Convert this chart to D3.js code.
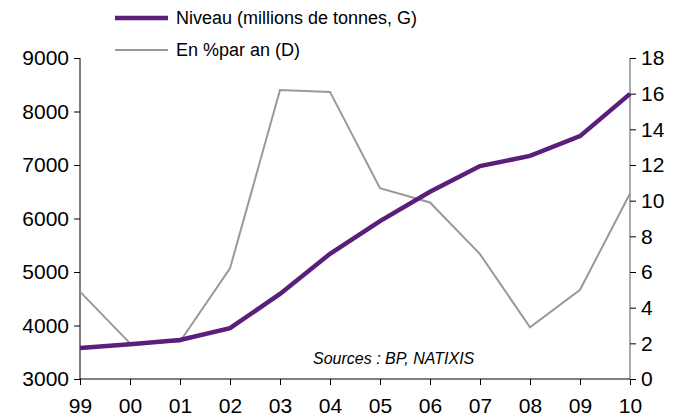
<!DOCTYPE html>
<html>
<head>
<meta charset="utf-8">
<script src="https://cdn.jsdelivr.net/npm/d3@7"></script>
<style>
body { margin: 0; background: #fff; }
text { font-family: "Liberation Sans", Arial, sans-serif; }
</style>
</head>
<body>
<script>
var w = 684, h = 418;

var years = ["99","00","01","02","03","04","05","06","07","08","09","10"];
var niveau = [3580, 3650, 3730, 3950, 4590, 5340, 5950, 6500, 6980, 7170, 7540, 8330];
var pctAn = [4.9, 2.0, 2.1, 6.2, 16.2, 16.1, 10.7, 9.9, 7.0, 2.9, 5.0, 10.4];
var leftTicks = [3000, 4000, 5000, 6000, 7000, 8000, 9000];
var rightTicks = [0, 2, 4, 6, 8, 10, 12, 14, 16, 18];
var legendLabels = ["Niveau (millions de tonnes, G)", "En %par an (D)"];

var purple = "#5b1f7b", grey = "#999999";

var padL = 80, padR = 630, padT = 58, padB = 379;

var svg = d3.select("body").append("svg")
    .attr("width", w).attr("height", h);

var x = d3.scalePoint().domain(years).range([padL, padR]);
var yL = d3.scaleLinear().domain([3000, 9000]).range([padB, padT]);
var yR = d3.scaleLinear().domain([0, 18]).range([padB, padT]);

// axes
var axL = svg.append("g").attr("transform", "translate(" + padL + ",0)")
    .call(d3.axisLeft(yL).tickValues(leftTicks).tickSize(6).tickPadding(5).tickFormat(d3.format("d")));
var axR = svg.append("g").attr("transform", "translate(" + padR + ",0)")
    .call(d3.axisRight(yR).tickValues(rightTicks).tickSize(6).tickPadding(5));
var axB = svg.append("g").attr("transform", "translate(0," + padB + ")")
    .call(d3.axisBottom(x).tickSize(6).tickPadding(8));

[axL, axR, axB].forEach(function(a){
    a.select(".domain").attr("stroke", "#000").attr("stroke-width", 1);
    a.selectAll(".tick line").attr("stroke", "#000");
    a.selectAll(".tick text").attr("font-size", "21px").attr("fill", "#000")
        .style("font-family", "'Liberation Sans', Arial, sans-serif");
});
axB.select(".domain").attr("d", "M" + padL + ",0H" + padR);
axL.select(".domain").attr("d", "M0," + padB + "V" + padT);
axR.select(".domain").attr("d", "M0," + padB + "V" + padT).attr("stroke", "#555");
axB.selectAll(".tick text").attr("dy", "0.95em");

// lines
var lineL = d3.line().x(function(d, i){ return x(years[i]); }).y(function(d){ return yL(d); });
var lineR = d3.line().x(function(d, i){ return x(years[i]); }).y(function(d){ return yR(d); });

svg.append("path").datum(pctAn)
    .attr("d", lineR).attr("fill", "none")
    .attr("stroke", grey).attr("stroke-width", 2);
svg.append("path").datum(niveau)
    .attr("d", lineL).attr("fill", "none")
    .attr("stroke", purple).attr("stroke-width", 4.5);

// legend
var leg = svg.append("g");
var legColors = [purple, grey], legWidths = [4.5, 2], legY = [18, 50];
legendLabels.forEach(function(t, i){
    leg.append("line")
        .attr("x1", 115).attr("x2", 168)
        .attr("y1", legY[i]).attr("y2", legY[i])
        .attr("stroke", legColors[i]).attr("stroke-width", legWidths[i]);
    leg.append("text")
        .attr("x", 176).attr("y", legY[i]).attr("dy", "0.35em")
        .attr("font-size", "18px").attr("fill", "#000")
        .text(t);
});

svg.append("text")
    .attr("x", 313).attr("y", 364)
    .attr("font-size", "16px").attr("font-style", "italic").attr("fill", "#000")
    .text("Sources : BP, NATIXIS");
</script>
</body>
</html>
